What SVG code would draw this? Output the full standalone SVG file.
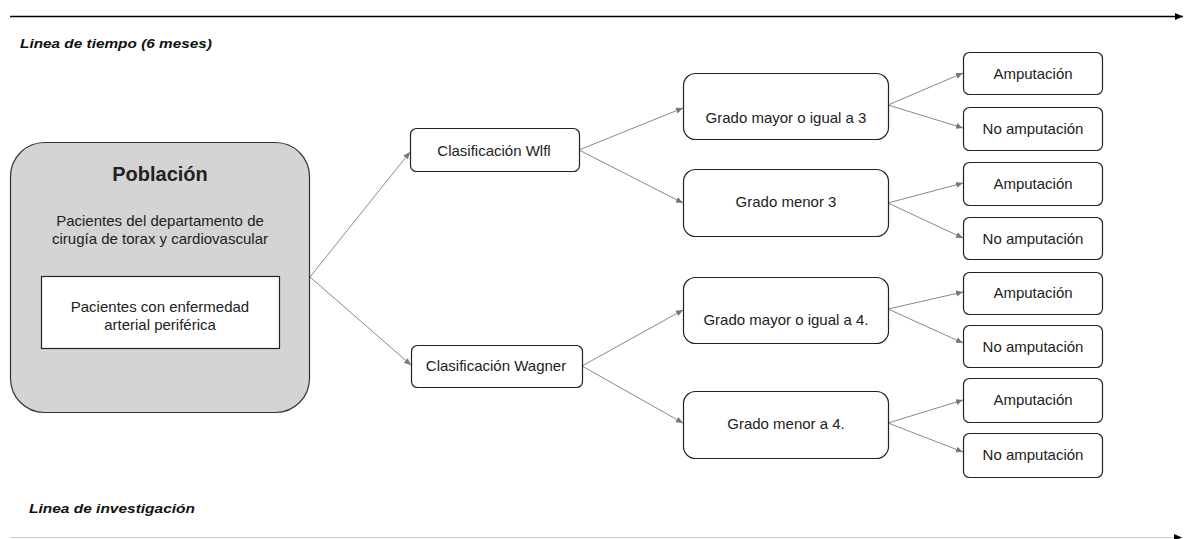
<svg xmlns="http://www.w3.org/2000/svg" width="1185" height="539" viewBox="0 0 1185 539">
<style>
.box{fill:#fff;stroke:#222;stroke-width:1.2}
.t{font-family:"Liberation Sans",Arial,sans-serif;font-size:15px;fill:#222;text-anchor:middle}
.lbl{font-family:"Liberation Sans",Arial,sans-serif;font-size:13px;font-weight:bold;font-style:italic;fill:#111}
.c{stroke:#888;stroke-width:1;fill:none;marker-end:url(#ah)}
</style>
<defs>
<marker id="ah" markerWidth="8" markerHeight="8" refX="7" refY="4" orient="auto" markerUnits="userSpaceOnUse">
<path d="M0,1 L7,4 L0,7 Z" fill="#777"/>
</marker>
<marker id="ahk" markerWidth="10" markerHeight="10" refX="8" refY="5" orient="auto" markerUnits="userSpaceOnUse">
<path d="M0,1.5 L8,5 L0,8.5 Z" fill="#000"/>
</marker>
</defs>

<g id="timeline-top">
<line x1="10" y1="16.5" x2="1183" y2="16.5" stroke="#000" stroke-width="1.6" marker-end="url(#ahk)"/>
<text class="lbl" x="20" y="48" textLength="192" lengthAdjust="spacingAndGlyphs">Linea de tiempo (6 meses)</text>
</g>
<g id="timeline-bottom">
<line x1="10" y1="537.5" x2="1182" y2="537.5" stroke="#ccc" stroke-width="1.2" marker-end="url(#ahk)"/>
<text class="lbl" x="29" y="513" textLength="166" lengthAdjust="spacingAndGlyphs">Linea de investigación</text>
</g>

<g id="connectors">
<line class="c" x1="310" y1="277" x2="410" y2="152"/>
<line class="c" x1="310" y1="277" x2="411" y2="365"/>
<line class="c" x1="579" y1="150" x2="683" y2="108"/>
<line class="c" x1="579" y1="150" x2="683" y2="203"/>
<line class="c" x1="582" y1="366" x2="683" y2="310"/>
<line class="c" x1="582" y1="366" x2="683" y2="423"/>
<line class="c" x1="888" y1="105" x2="963" y2="73"/>
<line class="c" x1="888" y1="105" x2="963" y2="128"/>
<line class="c" x1="888" y1="203" x2="963" y2="183"/>
<line class="c" x1="888" y1="203" x2="963" y2="238"/>
<line class="c" x1="888" y1="309" x2="963" y2="292"/>
<line class="c" x1="888" y1="309" x2="963" y2="343"/>
<line class="c" x1="888" y1="423" x2="963" y2="400"/>
<line class="c" x1="888" y1="423" x2="963" y2="452"/>
</g>

<g id="poblacion">
<rect x="10.5" y="142.5" width="299" height="270" rx="34" fill="#d4d4d4" stroke="#333" stroke-width="1.2"/>
<text class="t" x="160" y="181" style="font-size:20px;font-weight:bold">Población</text>
<text class="t" x="160" y="226">Pacientes del departamento de</text>
<text class="t" x="160" y="244">cirugía de torax y cardiovascular</text>
</g>
<g id="pacientes-eap">
<rect x="41.5" y="276.5" width="238" height="72" fill="#fff" stroke="#222" stroke-width="1.2"/>
<text class="t" x="160" y="312">Pacientes con enfermedad</text>
<text class="t" x="160" y="330">arterial periférica</text>
</g>

<g id="wifi">
<rect class="box" x="410.5" y="128.5" width="169" height="43" rx="6"/>
<text class="t" x="494" y="156">Clasificación Wlfl</text>
</g>
<g id="wagner">
<rect class="box" x="411.5" y="345.5" width="171" height="42" rx="6"/>
<text class="t" x="496" y="371">Clasificación Wagner</text>
</g>

<g id="g-mayor3">
<rect class="box" x="683.5" y="73.5" width="205" height="66" rx="12"/>
<text class="t" x="786" y="123">Grado mayor o igual a 3</text>
</g>
<g id="g-menor3">
<rect class="box" x="683.5" y="169.5" width="205" height="67" rx="12"/>
<text class="t" x="786" y="207">Grado menor 3</text>
</g>
<g id="g-mayor4">
<rect class="box" x="683.5" y="277.5" width="205" height="66" rx="12"/>
<text class="t" x="786" y="325">Grado mayor o igual a 4.</text>
</g>
<g id="g-menor4">
<rect class="box" x="683.5" y="391.5" width="205" height="67" rx="12"/>
<text class="t" x="786" y="429">Grado menor a 4.</text>
</g>

<g id="amp1"><rect class="box" x="963.5" y="52.5" width="139" height="42" rx="6"/><text class="t" x="1033" y="79">Amputación</text></g>
<g id="noamp1"><rect class="box" x="963.5" y="107.5" width="139" height="43" rx="6"/><text class="t" x="1033" y="134">No amputación</text></g>
<g id="amp2"><rect class="box" x="963.5" y="162.5" width="139" height="43" rx="6"/><text class="t" x="1033" y="189">Amputación</text></g>
<g id="noamp2"><rect class="box" x="963.5" y="217.5" width="139" height="42" rx="6"/><text class="t" x="1033" y="244">No amputación</text></g>
<g id="amp3"><rect class="box" x="963.5" y="272.5" width="139" height="42" rx="6"/><text class="t" x="1033" y="298">Amputación</text></g>
<g id="noamp3"><rect class="box" x="963.5" y="325.5" width="139" height="42" rx="6"/><text class="t" x="1033" y="352">No amputación</text></g>
<g id="amp4"><rect class="box" x="963.5" y="378.5" width="139" height="44" rx="6"/><text class="t" x="1033" y="405">Amputación</text></g>
<g id="noamp4"><rect class="box" x="963.5" y="433.5" width="139" height="44" rx="6"/><text class="t" x="1033" y="460">No amputación</text></g>
</svg>
